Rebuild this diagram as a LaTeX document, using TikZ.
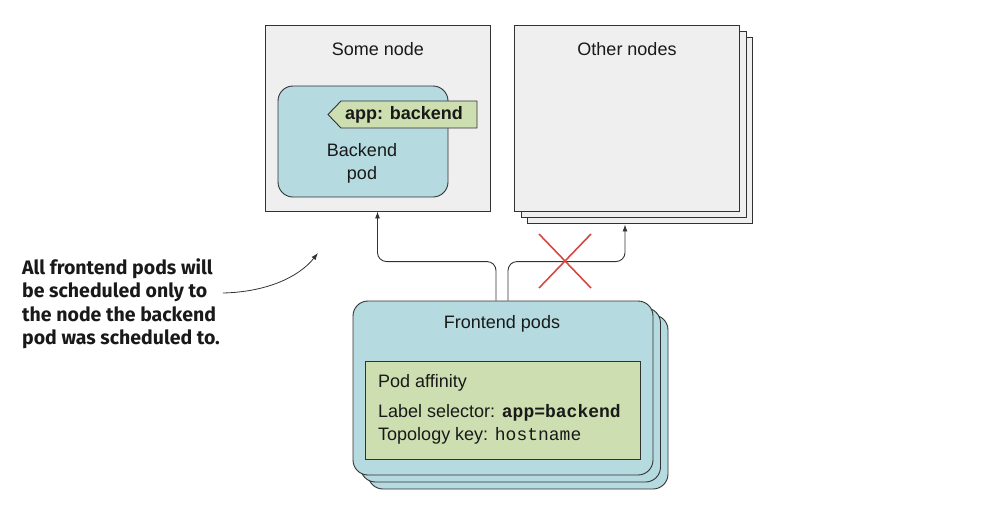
\documentclass[tikz,border=0pt]{standalone}
\usepackage{fontspec}
\setmainfont{Liberation Sans}
\setmonofont{Liberation Mono}
\newfontfamily\annfont{Fira Sans}
\usetikzlibrary{arrows.meta,calc}
\definecolor{boxgray}{RGB}{239,239,239}
\definecolor{podblue}{RGB}{181,218,224}
\definecolor{lblgreen}{RGB}{205,222,176}
\definecolor{edge}{RGB}{50,50,50}
\definecolor{xred}{RGB}{214,72,66}
\tikzset{
  machine/.style={draw=edge, fill=boxgray, line width=0.9pt, minimum width=225pt, minimum height=186pt, inner sep=0pt},
  podbox/.style={draw=edge, fill=podblue, line width=0.9pt, rounded corners=15pt, inner sep=0pt},
  greenbox/.style={draw=edge, fill=lblgreen, line width=0.9pt, inner sep=0pt},
  txt/.style={font=\fontsize{18}{23}\selectfont, text=black!90, inner sep=0pt},
  arr/.style={draw=edge, line width=0.9pt, -{Latex[length=7pt,width=5pt]}},
}
\begin{document}
\begin{tikzpicture}[x=1pt,y=-1pt]
\useasboundingbox (0,0) rectangle (1008,504);
% Some node
\node[machine] (sn) at (377.5,118) {};
\node[txt] (snt) at (378,49) {Some node};
\node[podbox, minimum width=170pt, minimum height=111pt] (bp) at (363,141.5) {};
\draw[draw=edge, fill=lblgreen, line width=0.9pt] (341,101) -- (477,101) -- (477,128) -- (341,128) -- (328,114.5) -- cycle;
\node[txt, font=\fontsize{18}{23}\selectfont\bfseries] (tag) at (404,114.5) {app: backend};
\node[txt, align=center] (bpt) at (362,163) {Backend\\pod};
% Other nodes (stacked)
\node[machine] (on3) at (640,130.6) {};
\node[machine] (on2) at (633.7,124.3) {};
\node[machine] (on) at (627,118) {};
\node[txt] (ont) at (627,49) {Other nodes};
% Frontend pods (stacked)
\node[podbox, minimum width=300pt, minimum height=174pt] (fp3) at (518,402) {};
\node[podbox, minimum width=300pt, minimum height=174pt] (fp2) at (510.5,395) {};
\node[podbox, minimum width=300pt, minimum height=174pt] (fp) at (503,388) {};
\node[txt] (fpt) at (502,324) {Frontend pods};
\node[greenbox, minimum width=275pt, minimum height=98pt] (aff) at (502.5,410) {};
\node[txt, anchor=west] (a1) at (378,383) {Pod affinity};
\node[txt, anchor=west] (a2) at (378,413) {Label selector: \texttt{\bfseries app=backend}};
\node[txt, anchor=west] (a3) at (378,436) {Topology key: \texttt{hostname}};
% Arrows
\draw[arr, rounded corners=9pt] ([xshift=-7pt]fp.north) -- ++(0,-39) -| (sn.south);
\draw[arr, rounded corners=9pt] ([xshift=5pt]fp.north) -- ++(0,-39) -| ($(on.south)+(-2,13)$);
% Red cross
\draw[xred, line width=1.6pt] (539,234) -- (591,288) (539,288) -- (591,234);
% Annotation
\node[anchor=north west, align=left, inner sep=0pt, font=\annfont\bfseries\fontsize{19.5}{23.5}\selectfont, text=black!90] (ann) at (22,258) {All frontend pods will\\be scheduled only to\\the node the backend\\pod was scheduled to.};
\coordinate (as) at (223,293);
\coordinate (ae) at (318,253);
\draw[draw=edge, line width=0.8pt, -{Latex[length=7pt,width=5pt]}] (as) .. controls (265,292) and (298,278) .. (ae);
\end{tikzpicture}
\end{document}
